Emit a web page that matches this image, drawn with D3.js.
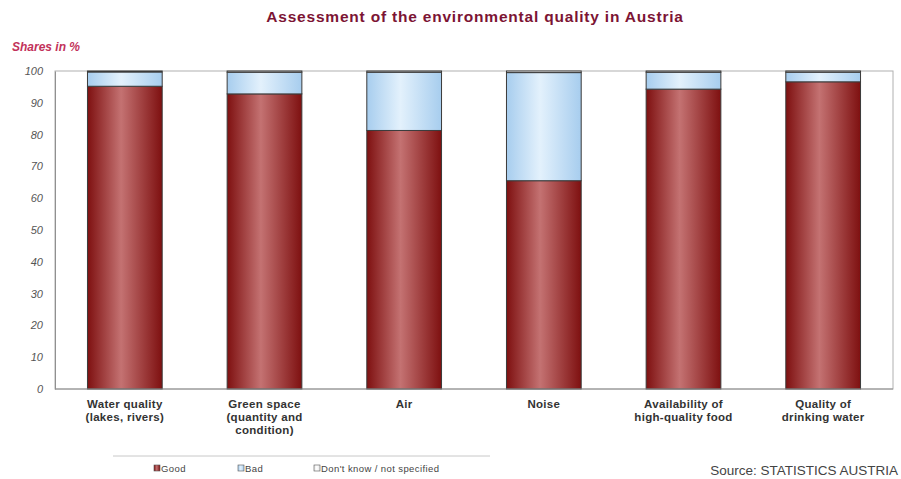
<!DOCTYPE html>
<html>
<head>
<meta charset="utf-8">
<script src="https://d3js.org/d3.v7.min.js"></script>
<style>
  body { margin: 0; background: #fff; }
  svg { font-family: "Liberation Sans", Arial, sans-serif; }
</style>
</head>
<body>
<div id="chart"></div>
<script>
// data
var categories = [
  ["Water quality", "(lakes, rivers)"],
  ["Green space", "(quantity and", "condition)"],
  ["Air"],
  ["Noise"],
  ["Availability of", "high-quality food"],
  ["Quality of", "drinking water"]
];
var good = [95.2, 92.8, 81.3, 65.5, 94.3, 96.6];
var bad = [4.5, 6.8, 18.3, 34.0, 5.3, 3.0];
var dontKnow = [0.3, 0.4, 0.4, 0.5, 0.4, 0.4];
var yTicks = [0, 10, 20, 30, 40, 50, 60, 70, 80, 90, 100];
var seriesNames = ["Good", "Bad", "Don't know / not specified"];

var W = 901, H = 479;
var margin = {top: 71, right: 8, bottom: 90, left: 55};
var width = W - margin.left - margin.right,
    height = H - margin.top - margin.bottom;

var svg = d3.select("#chart").append("svg")
    .attr("width", W)
    .attr("height", H);

// gradients for the shaded bars
var defs = svg.append("defs");
function grad(id, edge, mid) {
  var g = defs.append("linearGradient").attr("id", id)
      .attr("x1", "0%").attr("x2", "100%").attr("y1", "0%").attr("y2", "0%");
  g.append("stop").attr("offset", "0%").attr("stop-color", edge);
  g.append("stop").attr("offset", "45%").attr("stop-color", mid);
  g.append("stop").attr("offset", "100%").attr("stop-color", edge);
}
grad("gGood", "#7e1010", "#c47272");
grad("gBad", "#a7cdee", "#e3f1fc");
grad("gDk", "#e8e8e8", "#ffffff");

var fills = ["url(#gGood)", "url(#gBad)", "url(#gDk)"];

// title
svg.append("text")
    .attr("x", 475).attr("y", 22)
    .attr("text-anchor", "middle")
    .style("font-size", "15.5px")
    .style("font-weight", "bold")
    .style("letter-spacing", "0.8px")
    .style("fill", "#7c1434")
    .text("Assessment of the environmental quality in Austria");

svg.append("text")
    .attr("x", 12).attr("y", 51)
    .style("font-size", "12px")
    .style("font-weight", "bold")
    .style("font-style", "italic")
    .style("fill", "#c2325a")
    .text("Shares in %");

var g = svg.append("g")
    .attr("transform", "translate(" + margin.left + "," + margin.top + ")");

var x = d3.scaleBand()
    .domain(d3.range(categories.length))
    .range([0, width])
    .paddingInner(0.465)
    .paddingOuter(0.2325);

var y = d3.scaleLinear()
    .domain([0, 100])
    .range([height, 0]);

// plot frame
g.append("rect")
    .attr("width", width).attr("height", height)
    .attr("fill", "none")
    .attr("stroke", "#b0b0b0")
    .attr("stroke-width", 1);

// y axis
var yAxis = g.append("g")
    .call(d3.axisLeft(y).tickValues(yTicks).tickSize(0).tickPadding(12));
yAxis.select(".domain").attr("stroke", "#909090");
yAxis.selectAll("text")
    .style("font-size", "11px")
    .style("font-style", "italic")
    .style("fill", "#555");

// stacked bars
var rows = categories.map(function(c, i) {
  return {i: i, vals: [good[i], bad[i], dontKnow[i]]};
});
var cols = g.selectAll(".col").data(rows).enter().append("g")
    .attr("class", "col");

cols.each(function(d) {
  var base = 0;
  var sel = d3.select(this);
  d.vals.forEach(function(v, k) {
    sel.append("rect")
        .attr("x", x(d.i))
        .attr("width", x.bandwidth())
        .attr("y", y(base + v))
        .attr("height", y(base) - y(base + v))
        .attr("fill", fills[k])
        .attr("stroke", "#3a3a3a")
        .attr("stroke-width", 1);
    base += v;
  });
});

// x axis line
g.append("line")
    .attr("x1", 0).attr("x2", width)
    .attr("y1", height).attr("y2", height)
    .attr("stroke", "#909090");

// category labels
var lbl = g.selectAll(".cat").data(categories).enter().append("text")
    .attr("class", "cat")
    .attr("text-anchor", "middle")
    .attr("transform", function(d, i) {
      return "translate(" + (x(i) + x.bandwidth() / 2) + "," + (height + 19) + ")";
    })
    .style("font-size", "11.5px")
    .style("font-weight", "bold")
    .style("letter-spacing", "0.3px")
    .style("fill", "#333");
lbl.selectAll("tspan").data(function(d) { return d; }).enter().append("tspan")
    .attr("x", 0)
    .attr("dy", function(d, j) { return j === 0 ? 0 : 13; })
    .text(function(d) { return d; });

// legend
var leg = svg.append("g");
leg.append("line")
    .attr("x1", 113).attr("x2", 490)
    .attr("y1", 456).attr("y2", 456)
    .attr("stroke", "#c8c8c8");
var legX = [154, 238, 314];
seriesNames.forEach(function(n, k) {
  leg.append("rect")
      .attr("x", legX[k]).attr("y", 465)
      .attr("width", 6).attr("height", 6)
      .attr("fill", fills[k])
      .attr("stroke", "#555").attr("stroke-width", 0.6);
  leg.append("text")
      .attr("x", legX[k] + 7).attr("y", 471.5)
      .style("font-size", "9.5px")
      .style("letter-spacing", "0.4px")
      .style("fill", "#444")
      .text(n);
});

svg.append("text")
    .attr("x", 898).attr("y", 475)
    .attr("text-anchor", "end")
    .style("font-size", "13.5px")
    .style("fill", "#444")
    .text("Source: STATISTICS AUSTRIA");
</script>
</body>
</html>
